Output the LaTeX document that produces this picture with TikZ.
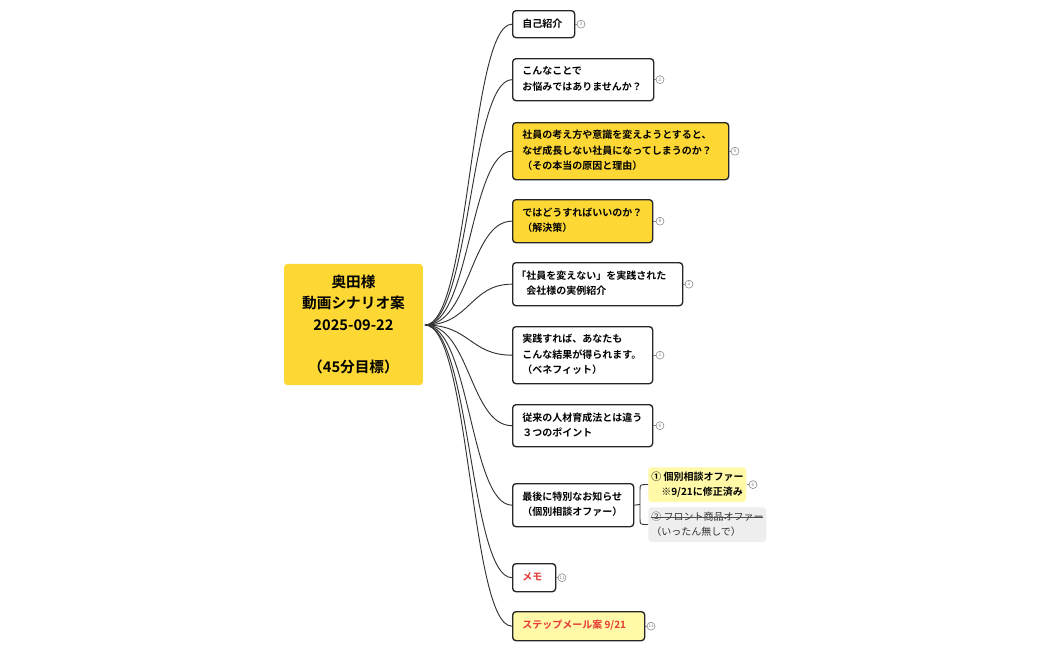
\documentclass[tikz,border=0pt]{standalone}
\usepackage{fontspec}
\setmainfont{Noto Sans CJK JP}
\newfontfamily\cjkb{Noto Sans CJK JP Bold}
\begin{document}
\begin{tikzpicture}[x=0.75pt,y=-0.75pt,
  box/.style={draw=black!85,line width=1pt,rounded corners=2.5pt,fill=white,inner sep=0pt,anchor=north west,align=left,font=\cjkb\fontsize{7.5}{11.5}\selectfont},
  badge/.style={circle,draw=gray,line width=0.4pt,inner sep=0pt,minimum size=6pt,font=\fontsize{3.5}{4}\selectfont,text=gray},
  link/.style={draw=black!80,line width=0.7pt},
  blink/.style={draw=gray,line width=0.4pt}]
\useasboundingbox (0,0) rectangle (1050,650);
\definecolor{ylw}{HTML}{FDD835}
\definecolor{lylw}{HTML}{FFF9A8}
\definecolor{lgry}{HTML}{EEEEEE}
\definecolor{rd}{HTML}{E53935}
\newcommand{\bx}[6]{% name,x1,y1,x2,y2,fill
  \node[box,fill=#6,minimum width={(#4-#2)*0.75pt},minimum height={(#5-#3)*0.75pt}] (#1) at (#2,#3) {};}
% root
\node[fill=ylw,rounded corners=2.5pt,minimum width=104pt,minimum height=91pt,align=center,font=\cjkb\fontsize{11}{16}\selectfont] (root) at (353.5,324.5) {奥田様\\動画シナリオ案\\2025-09-22\\[16pt]（45分目標）};
\bx{n1}{512}{10}{574}{37}{white}
\bx{n2}{512}{58}{653}{100}{white}
\bx{n3}{512}{122}{728}{179}{ylw}
\bx{n4}{512}{199}{652}{242}{ylw}
\bx{n5}{512}{262}{682}{305}{white}
\bx{n6}{512}{326}{652}{383}{white}
\bx{n7}{512}{404}{652}{446}{white}
\bx{n8}{512}{483}{633}{526}{white}
\bx{n9}{512}{563}{555}{591}{white}
\bx{n10}{512}{611}{644}{640}{lylw}
\node[fill=lylw,rounded corners=2.5pt,minimum width=73.5pt,minimum height=26pt,anchor=north west] (s1) at (648,467) {};
\node[fill=lgry,rounded corners=2.5pt,minimum width=88.5pt,minimum height=26pt,anchor=north west] (s2) at (648,507) {};
% texts
\tikzset{txt/.style={anchor=west,align=left,inner sep=0pt,font=\cjkb\fontsize{7.5}{11.5}\selectfont}}
\node[txt] at (522,23.5) {自己紹介};
\node[txt] at (522,79) {こんなことで\\お悩みではありませんか？};
\node[txt] at (522,150.5) {社員の考え方や意識を変えようとすると、\\なぜ成長しない社員になってしまうのか？\\（その本当の原因と理由）};
\node[txt] at (522,220.5) {ではどうすればいいのか？\\（解決策）};
\node[txt] at (516,283.5) {「社員を変えない」を実践された\\　会社様の実例紹介};
\node[txt] at (522,354.5) {実践すれば、あなたも\\こんな結果が得られます。\\（ベネフィット）};
\node[txt] at (522,425) {従来の人材育成法とは違う\\３つのポイント};
\node[txt,align=center] at (522,504.5) {最後に特別なお知らせ\\（個別相談オファー）};
\node[txt,text=rd] at (522,577) {メモ};
\node[txt,text=rd] at (522,625.5) {ステップメール案 9/21};
\node[txt] at (651,484.5) {① 個別相談オファー\\　※9/21に修正済み};
\node[txt,font=\fontsize{7.5}{11.5}\selectfont,text=black!80] at (651,524.5) {② フロント商品オファー\\（いったん無しで）};
\draw[black!70,line width=0.5pt] (651,517) -- (763,517);
% connectors
\coordinate (o) at (425,325);
\foreach \n in {n1,n2,n3,n4,n5,n6,n7,n8,n9,n10}{
  \draw[link] (o) .. controls (470,325) and (470,0|-\n.west) .. (\n.west);
}
\coordinate (b) at (640,504.5);
\draw[link] (n8.east) -- (b);
\draw[link] (b) -- (640,490) .. controls (640,484.5) .. (648,484.5);
\draw[link] (b) -- (640,519) .. controls (640,524.5) .. (648,524.5);
% badges
\foreach \n/\xx/\num in {n1/581/3,n2/660/2,n3/735/6,n4/660/8,n5/689/2,n6/660/2,n7/660/6,s1/753/6,n9/562/11,n10/651/11}{
  \node[badge] (b\n) at (\xx,0|-\n.east) {\num};
  \draw[blink] (\n.east) -- (b\n);
}
\end{tikzpicture}
\end{document}
